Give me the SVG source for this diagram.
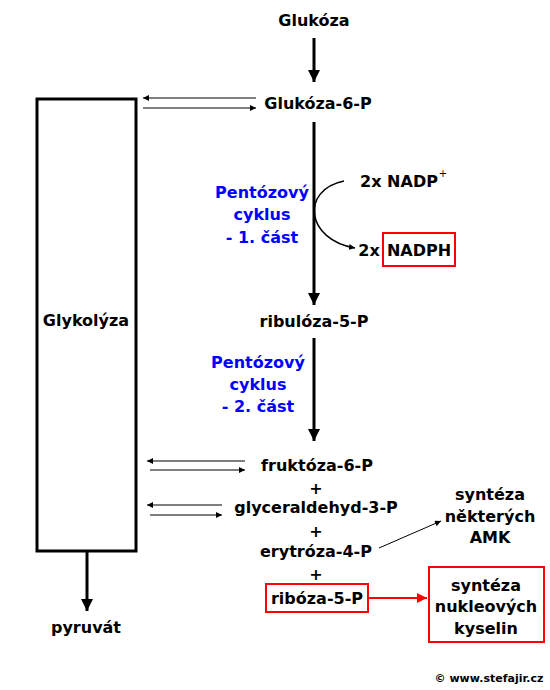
<svg xmlns="http://www.w3.org/2000/svg" width="550" height="690" viewBox="0 0 550 690">
<defs>
<style>
text{font-family:"DejaVu Sans","Verdana",sans-serif;font-weight:bold;font-size:16px;text-anchor:middle;fill:#000}
.blue{fill:#0000ff}
.small{font-size:11px}
.thick{stroke:#000;stroke-width:3;fill:none}
.thin{stroke:#000;stroke-width:1;fill:none}
.red{stroke:#ff0000;stroke-width:2;fill:none}
</style>
<marker id="ah" viewBox="0 0 10 10" refX="10" refY="5" markerWidth="4" markerHeight="4" orient="auto" markerUnits="strokeWidth"><path d="M0,0L10,5L0,10z" fill="#000"/></marker>
<marker id="ahs" viewBox="0 0 10 10" refX="10" refY="5" markerWidth="8" markerHeight="6" orient="auto" markerUnits="strokeWidth"><path d="M0,0L10,5L0,10z" fill="#000"/></marker>
<marker id="ahr" viewBox="0 0 10 10" refX="10" refY="5" markerWidth="5" markerHeight="5" orient="auto" markerUnits="strokeWidth"><path d="M0,0L10,5L0,10z" fill="#ff0000"/></marker>
</defs>
<g id="connectors">
<line class="thick" x1="314" y1="38" x2="314" y2="82" marker-end="url(#ah)"/>
<line class="thin" x1="256" y1="98" x2="143" y2="98" marker-end="url(#ahs)"/>
<line class="thin" x1="143" y1="108" x2="256" y2="108" marker-end="url(#ahs)"/>
<line class="thick" x1="314" y1="122" x2="314" y2="305" marker-end="url(#ah)"/>
<path class="thin" style="stroke-width:1.5" d="M344,181 C300,190 306,240 355,248" marker-end="url(#ah)"/>
<line class="thick" x1="314" y1="338" x2="314" y2="441" marker-end="url(#ah)"/>
<line class="thin" x1="245" y1="461" x2="147" y2="461" marker-end="url(#ahs)"/>
<line class="thin" x1="150" y1="470" x2="245" y2="470" marker-end="url(#ahs)"/>
<line class="thin" x1="222" y1="505" x2="147" y2="505" marker-end="url(#ahs)"/>
<line class="thin" x1="150" y1="515" x2="222" y2="515" marker-end="url(#ahs)"/>
<line class="thin" x1="379" y1="548" x2="441" y2="521" marker-end="url(#ahs)"/>
<line class="red" x1="369" y1="598" x2="427" y2="598" marker-end="url(#ahr)"/>
<line class="thick" x1="87" y1="551" x2="87" y2="611" marker-end="url(#ah)"/>
</g>
<g id="glukoza"><text x="314" y="26">Glukóza</text></g>
<g id="glykolyza"><rect x="37" y="99" width="99" height="452" fill="none" stroke="#000" stroke-width="3"/><text x="86" y="326">Glykolýza</text></g>
<g id="glukoza6p"><text x="318" y="109">Glukóza-6-P</text></g>
<g id="pc1"><text class="blue" x="262" y="198">Pentózový</text><text class="blue" x="262" y="220">cyklus</text><text class="blue" x="262" y="243">- 1. část</text></g>
<g id="nadp"><text x="399" y="187">2x NADP</text><text x="443" y="177" style="font-size:10px;font-weight:normal">+</text></g>
<g id="nadph"><text x="369" y="256">2x</text><rect x="383" y="233" width="72" height="33" class="red"/><text x="419" y="256">NADPH</text></g>
<g id="ribuloza"><text x="314" y="327">ribulóza-5-P</text></g>
<g id="pc2"><text class="blue" x="258" y="368">Pentózový</text><text class="blue" x="258" y="390">cyklus</text><text class="blue" x="258" y="412">- 2. část</text></g>
<g id="fruktoza"><text x="317" y="471">fruktóza-6-P</text><text x="316" y="494">+</text></g>
<g id="glyceraldehyd"><text x="316" y="513">glyceraldehyd-3-P</text><text x="316" y="537">+</text></g>
<g id="erytroza"><text x="316" y="557">erytróza-4-P</text><text x="316" y="580">+</text></g>
<g id="riboza"><rect x="266" y="584" width="102" height="28" class="red"/><text x="317" y="604">ribóza-5-P</text></g>
<g id="amk"><text x="490" y="500">syntéza</text><text x="490" y="522">některých</text><text x="490" y="543">AMK</text></g>
<g id="nukleove"><rect x="429" y="567" width="115" height="75" class="red"/><text x="486" y="591">syntéza</text><text x="486" y="612">nukleových</text><text x="486" y="634">kyselin</text></g>
<g id="pyruvat"><text x="86" y="633">pyruvát</text></g>
<text class="small" x="489" y="682">© www.stefajir.cz</text>
</svg>
